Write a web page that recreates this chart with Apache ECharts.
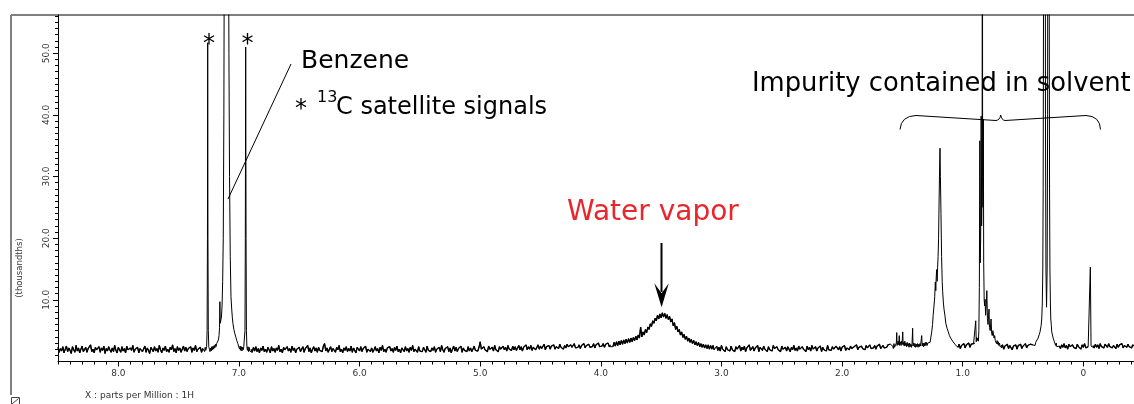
<!DOCTYPE html>
<html>
<head>
<meta charset="utf-8">
<script src="https://cdn.jsdelivr.net/npm/echarts@6/dist/echarts.min.js"></script>
<style>
html,body{margin:0;padding:0;background:#fff;}
#chart{width:1134px;height:404px;}
</style>
</head>
<body>
<div id="chart"></div>
<script>
// ---------- axis ticks ----------
const xMajorTicks = [8, 7, 6, 5, 4, 3, 2, 1, 0];
const yMajorTicks = [10, 20, 30, 40, 50];

// ---------- baseline noise segments (fixed ppm step) ----------
const noiseStep = 0.01;
const noiseAStart = 8.50, noiseAEnd = 7.30;
const noiseA = [2.3,1.5,2.1,1.7,2.4,1.4,2.0,2.5,1.6,2.2,
  1.8,1.3,2.4,1.9,1.5,2.6,1.7,2.2,1.4,2.0,
  2.5,1.6,1.9,2.3,1.5,2.1,1.8,2.7,1.6,2.0,
  1.4,2.3,1.9,1.6,2.4,1.5,2.2,1.8,2.5,1.3,
  2.1,1.7,2.4,1.9,1.5,2.2,1.6,2.6,1.8,1.4,
  2.3,2.0,1.5,2.4,1.7,2.1,1.4,2.5,1.9,1.6,
  2.2,1.8,2.6,1.5,2.0,1.7,2.3,1.4,2.1,2.4,
  1.6,1.9,2.5,1.5,2.2,1.8,1.3,2.3,2.0,1.6,
  2.4,1.7,2.1,1.5,2.6,1.9,1.4,2.2,1.8,2.5,
  1.6,2.0,1.5,2.3,1.9,2.7,1.6,2.1,1.4,2.4,
  1.8,2.2,1.5,2.0,2.5,1.7,2.3,1.6,2.1,1.9,
  2.4,1.5,2.2,1.8,2.6,1.6,2.0,1.7,2.3,1.5,
  2.1];
const noiseBStart = 6.90, noiseBEnd = 3.92;
const noiseB = [2.0,1.5,2.3,1.7,2.4,1.6,2.1,1.4,2.2,1.8,
  2.5,1.6,2.0,1.5,2.3,1.9,1.4,2.4,1.7,2.1,
  1.5,2.2,1.8,2.6,1.6,2.0,1.4,2.3,1.9,1.6,
  2.4,1.7,2.1,1.5,2.5,1.8,2.2,1.4,2.0,1.7,
  2.3,1.6,1.9,2.4,1.5,2.1,1.8,2.6,1.6,2.2,
  1.4,2.0,2.4,1.7,2.2,1.5,2.3,1.8,2.1,1.6,
  2.5,2.9,1.7,2.2,1.5,2.0,2.4,1.6,2.1,1.8,
  1.5,2.3,1.9,2.6,1.6,2.0,1.4,2.2,1.8,2.4,
  1.6,2.1,1.7,2.5,1.5,2.2,1.9,1.4,2.3,2.0,
  1.7,2.4,1.6,2.1,1.8,2.5,1.5,2.0,2.3,1.6,
  2.2,1.5,1.9,2.4,1.7,2.1,1.4,2.3,1.8,2.6,
  1.6,2.0,1.5,2.2,1.9,2.4,1.7,2.1,1.5,2.3,
  1.8,2.5,1.6,2.0,1.4,2.2,1.9,1.6,2.4,1.7,
  2.1,1.5,2.3,1.8,2.6,1.6,2.0,2.2,1.5,2.4,
  1.7,2.0,1.6,2.3,1.9,1.5,2.5,1.8,2.1,1.6,
  2.2,1.8,2.4,1.5,2.0,1.7,2.3,1.6,2.6,1.9,
  1.5,2.1,1.8,2.4,1.6,2.2,1.4,2.0,2.5,1.7,
  2.3,1.6,2.1,1.9,2.5,1.5,2.2,1.8,2.0,1.6,
  2.4,1.7,2.2,1.6,2.0,2.5,1.8,2.1,1.7,2.3,
  3.2,2.0,1.7,2.4,1.9,2.2,1.6,2.5,2.0,1.8,
  2.3,1.7,2.6,1.9,2.1,1.6,2.4,2.0,1.8,2.5,
  1.9,2.3,1.7,2.6,2.0,2.2,1.8,2.5,1.9,2.4,
  1.8,2.2,2.6,1.9,2.4,1.7,2.3,2.1,2.7,1.9,
  2.4,2.0,2.6,1.8,2.3,2.5,1.9,2.2,2.7,2.0,
  2.5,2.1,2.3,2.8,1.9,2.4,2.2,2.6,2.0,2.5,
  2.2,2.7,2.0,2.4,2.6,2.1,2.8,2.3,2.5,2.0,
  2.6,2.2,2.8,2.4,2.1,2.7,2.3,2.5,2.9,2.2,
  2.5,2.3,2.7,2.1,2.6,2.4,2.9,2.2,2.6,2.5,
  2.8,2.3,2.6,2.4,2.9,2.2,2.7,2.5,3.0,2.4,
  2.7,2.5,2.9,2.3,2.8,2.6,3.0,2.4,2.7];
// water vapor hump
const waterStart = 3.90, waterEnd = 3.06;
const waterVals = [2.4,3.1,2.5,3.2,2.6,3.3,2.7,3.4,2.8,3.5,
  2.9,3.6,3.0,3.7,3.1,3.8,3.2,3.9,3.4,4.1,
  3.5,4.3,3.8,5.6,4.0,4.8,4.3,5.2,4.7,5.6,
  5.2,6.1,5.7,6.6,6.2,7.0,6.6,7.5,6.9,7.7,
  7.1,7.9,7.2,7.8,7.0,7.6,6.8,7.3,6.4,6.9,
  5.8,6.3,5.2,5.7,4.8,5.2,4.3,4.8,3.9,4.4,
  3.6,4.1,3.3,3.8,3.1,3.6,2.9,3.4,2.7,3.2,
  2.6,3.1,2.4,2.9,2.3,2.8,2.2,2.7,2.1,2.7,
  2.0,2.6,2.0,2.6,1.9];
const noiseCStart = 3.04, noiseCEnd = 1.60;
const noiseC = [2.5,1.8,2.3,1.7,2.6,2.0,2.2,1.6,2.4,1.9,
  2.1,1.7,2.5,1.9,2.2,1.6,2.4,2.0,1.8,2.6,
  1.7,2.3,1.9,2.5,1.6,2.2,2.0,2.7,1.8,2.1,
  2.4,1.7,2.2,1.9,2.6,1.6,2.3,2.0,1.8,2.5,
  2.0,2.3,1.6,2.4,1.9,2.2,1.7,2.6,2.1,1.8,
  2.4,1.9,2.2,1.6,2.5,2.0,1.8,2.3,1.7,2.4,
  2.1,1.6,2.3,1.9,2.6,1.8,2.2,1.7,2.5,2.0,
  1.8,2.4,2.0,2.2,1.6,2.5,1.9,2.3,1.7,2.6,
  2.0,1.8,2.4,1.7,2.2,2.0,2.5,1.6,2.3,1.9,
  2.2,1.7,2.6,1.9,2.1,1.8,2.4,2.0,1.7,2.5,
  2.2,1.9,2.4,1.7,2.3,2.0,2.6,1.8,2.2,2.4,
  1.9,2.5,2.1,1.8,2.4,2.2,2.7,1.9,2.3,2.0,
  2.5,2.1,2.3,1.9,2.6,2.2,2.0,2.7,2.1,2.4,
  2.2,2.6,2.0,2.5,2.3,2.8,2.1,2.4,2.6,2.2,
  2.5,2.3,2.7,2.4,2.8];
const noiseDStart = 1.04, noiseDEnd = 0.90;
const noiseD = [2.3,2.8,2.1,2.6,2.4,2.9,2.2,2.7,2.5,3.0,2.3,2.8,2.5,2.9,3.0];
const noiseEStart = 0.68, noiseEEnd = 0.42;
const noiseE = [2.2,2.7,2.0,2.5,2.3,2.8,2.1,2.6,2.4,1.9,2.5,2.2,2.7,2.0,2.6,2.3,2.8,2.1,2.5,2.4,2.9,2.2,2.6,2.3,2.8,2.5,2.7];
const noiseFStart = 0.20, noiseFEnd = -0.04;
const noiseF = [2.5,2.1,2.7,2.3,2.9,2.2,2.6,2.0,2.8,2.4,2.2,2.7,2.3,2.6,2.1,2.8,2.4,2.5,2.0,2.7,2.3,2.9,2.2,2.5,2.4];
const noiseGStart = -0.08, noiseGEnd = -0.42;
const noiseG = [2.6,2.2,2.8,2.3,2.7,2.1,2.9,2.4,2.6,2.2,2.8,2.5,2.3,2.9,2.4,2.7,2.2,2.6,2.5,2.1,2.8,2.3,2.7,2.4,2.9,2.2,2.6,2.5,2.3,2.8,2.4,2.6,2.2,2.7,2.5];

// ---------- peaks: [ppm, intensity (thousandths)] ----------
const benzenePts = [[7.29,2.2],[7.285,1.6],[7.28,2.3],[7.275,1.8],[7.268,2.4],[7.264,5],[7.261,20],[7.259,51.7],[7.257,20],[7.254,5],
  [7.25,2.4],[7.245,2.0],[7.24,1.6],[7.235,2.2],[7.23,1.7],[7.225,2.4],[7.22,1.9],[7.215,2.5],[7.21,2.0],[7.205,2.6],
  [7.20,2.2],[7.195,2.8],[7.19,2.4],[7.185,2.9],[7.18,2.6],[7.175,3.2],[7.17,3.5],[7.165,4.2],[7.161,5.5],[7.158,9.7],
  [7.155,6.2],[7.15,6.5],[7.145,7.2],[7.14,9],[7.135,13],[7.13,20],[7.125,40],[7.12,80],[7.112,200],[7.104,500],
  [7.096,200],[7.088,80],[7.083,50],[7.078,30],[7.072,17],[7.066,10.5],[7.06,8.5],[7.055,7.2],[7.05,6.2],[7.042,5.2],
  [7.035,4.6],[7.025,3.9],[7.018,3.4],[7.009,2.9],[7.0,2.6],[6.995,2.0],[6.99,2.5],[6.985,1.8],[6.98,2.4],[6.975,1.7],
  [6.97,2.3],[6.965,1.9],[6.96,2.4],[6.955,2.6],[6.95,5],[6.947,20],[6.944,51],[6.941,20],[6.938,5],[6.934,2.4],
  [6.93,1.8],[6.925,2.4],[6.92,1.6],[6.915,2.3],[6.91,1.7]];
const impurityPts = [[1.58,2.5],[1.575,2.1],[1.57,2.9],[1.565,2.3],[1.56,2.6],[1.555,2.2],[1.55,3.0],[1.547,4.7],[1.544,2.6],
  [1.54,2.9],[1.535,3.3],[1.53,2.7],[1.526,4.2],[1.522,2.6],[1.518,3.2],[1.51,2.6],[1.506,3.3],[1.503,2.8],[1.497,4.8],
  [1.494,2.7],[1.49,3.1],[1.485,2.5],[1.48,3.3],[1.475,2.6],[1.47,3.0],[1.465,2.4],[1.46,3.1],[1.455,2.5],[1.45,2.9],
  [1.445,2.3],[1.44,3.0],[1.435,2.4],[1.43,2.8],[1.425,2.3],[1.42,2.9],[1.415,5.4],[1.412,2.5],[1.405,3.0],[1.40,2.4],
  [1.395,2.9],[1.39,2.3],[1.385,2.8],[1.38,2.4],[1.375,2.9],[1.37,2.3],[1.365,2.8],[1.36,2.4],[1.355,2.9],[1.35,2.5],
  [1.345,2.8],[1.34,4.2],[1.336,2.5],[1.33,3.0],[1.325,2.4],[1.32,3.0],[1.315,2.5],[1.31,3.1],[1.305,2.6],[1.30,3.1],
  [1.295,2.6],[1.29,3.0],[1.285,2.7],[1.28,3.2],[1.275,2.8],[1.27,3.1],[1.265,3.8],[1.257,4.8],[1.25,6.0],
  [1.245,7.5],[1.238,9.0],[1.232,10.5],[1.227,12.9],[1.223,11.5],[1.22,13.5],[1.216,14.9],[1.212,13],[1.208,15.3],
  [1.204,17],[1.20,20],[1.195,27],[1.19,33],[1.188,34.6],[1.185,30],[1.18,24],[1.175,17],[1.17,13],[1.166,11.3],
  [1.16,9.5],[1.155,8.5],[1.147,7.4],[1.14,6.2],[1.135,6.0],[1.13,5.4],[1.125,5.6],[1.119,4.8],[1.115,4.9],[1.11,4.2],
  [1.105,4.3],[1.10,3.8],[1.095,4.0],[1.091,3.5],[1.085,3.7],[1.08,3.2],[1.075,3.5],[1.07,2.9],[1.065,3.2],[1.06,2.7]];
const clusterPts = [[0.895,3.0],[0.892,6.6],[0.888,3.2],[0.884,3.9],[0.88,3.4],[0.875,3.8],[0.87,3.3],[0.866,5],[0.862,12],[0.858,35.8],
  [0.855,16],[0.851,20],[0.847,39.8],[0.843,22],[0.839,30],[0.837,120],[0.835,30],[0.832,25],[0.829,39.3],[0.826,16],
  [0.822,10],[0.818,9],[0.815,10.1],[0.81,7.5],[0.805,9],[0.80,11.5],[0.795,7],[0.79,6],[0.786,7.5],[0.782,8.5],
  [0.778,5.5],[0.772,5],[0.765,6.9],[0.76,4.6],[0.755,4.2],[0.75,5],[0.746,4.8],[0.74,3.8],[0.735,4.2],[0.73,3.4],
  [0.725,3.7],[0.72,2.9],[0.715,3.4],[0.71,2.8],[0.705,3.2],[0.70,2.6],[0.695,3.0],[0.69,2.4]];
const doubletPts = [[0.40,2.6],[0.395,3.1],[0.39,2.8],[0.385,3.4],[0.38,3.2],[0.375,3.8],[0.37,3.7],[0.365,4.4],[0.359,4.8],[0.35,5.8],[0.345,6.9],[0.34,9.5],[0.336,15],
  [0.333,28],[0.33,60],[0.326,150],[0.322,300],[0.318,150],[0.314,40],[0.31,15],[0.305,8.8],[0.30,15],[0.296,40],
  [0.293,150],[0.29,300],[0.287,150],[0.283,60],[0.28,28],[0.277,15],[0.273,9.5],[0.27,6.9],[0.265,5.8],[0.262,4.8],
  [0.256,4.6],[0.25,3.8],[0.245,3.7],[0.24,3.2],[0.235,3.3],[0.23,2.6],[0.225,3.0],[0.22,2.4]];
const tmsPts = [[-0.052,2.4],[-0.058,15.3],[-0.064,2.5]];

// ---------- build the spectrum table ----------
function seg(start, end, step, vals) {
  const out = [];
  for (let i = 0; i < vals.length; i++) {
    const p = +(start - i * step).toFixed(4);
    if (p < end - 1e-9) break;
    out.push([p, vals[i]]);
  }
  return out;
}
const noiseSegs = [
  seg(noiseAStart, noiseAEnd, noiseStep, noiseA),
  seg(noiseBStart, noiseBEnd, noiseStep, noiseB),
  seg(waterStart, waterEnd, noiseStep, waterVals),
  seg(noiseCStart, noiseCEnd, noiseStep, noiseC),
  seg(noiseDStart, noiseDEnd, noiseStep, noiseD),
  seg(noiseEStart, noiseEEnd, noiseStep, noiseE),
  seg(noiseFStart, noiseFEnd, noiseStep, noiseF),
  seg(noiseGStart, noiseGEnd, noiseStep, noiseG)
];
const spectrum = [].concat(
  ...noiseSegs, benzenePts, impurityPts, clusterPts, doubletPts, tmsPts
).sort((a, b) => b[0] - a[0]);
// the same noisy baseline stretches, drawn again a little heavier (the band look of the original)
const noiseBand = [];
noiseSegs.forEach(s => { s.forEach(p => noiseBand.push(p)); noiseBand.push([s[s.length - 1][0] - 0.001, null]); });

const xMinorTicks = [];
for (let k = -4; k <= 85; k++) xMinorTicks.push(+(k / 10).toFixed(1));
const yMinorTicks = [];
for (let k = 1; k <= 56; k++) yMinorTicks.push(k);

const FONT = 'DejaVu Sans';
const chart = echarts.init(document.getElementById('chart'), null, {renderer: 'canvas'});

function qcurve(x1, y1, cx, cy, x2, y2) {
  return {type: 'bezierCurve', silent: true, shape: {x1: x1, y1: y1, cpx1: cx, cpy1: cy, x2: x2, y2: y2},
    style: {fill: 'none', stroke: '#000', lineWidth: 1}};
}
function seg2(x1, y1, x2, y2, w, c) {
  return {type: 'line', silent: true, shape: {x1: x1, y1: y1, x2: x2, y2: y2}, style: {stroke: c || '#000', lineWidth: w || 1}};
}
function txt(x, y, text, size, color, align, rot) {
  const o = {type: 'text', silent: true, x: x, y: y,
    style: {text: text, font: size + 'px ' + FONT, fill: color || '#000', align: align || 'left', verticalAlign: 'middle'}};
  if (rot) o.rotation = rot;
  return o;
}

chart.setOption({
  animation: false,
  backgroundColor: '#ffffff',
  grid: {left: 58, right: 0, top: 15, bottom: 42.5, containLabel: false},
  xAxis: [{
    type: 'value', min: -0.42, max: 8.5, inverse: true, position: 'bottom',
    axisLine: {show: true, onZero: false, lineStyle: {color: '#000', width: 1}},
    axisTick: {show: true, length: 5, customValues: xMajorTicks, lineStyle: {color: '#000', width: 1}},
    axisLabel: {show: true, customValues: xMajorTicks, margin: 8, fontSize: 9, fontFamily: FONT, color: '#333',
      formatter: v => (v === 0 ? '0' : Number(v).toFixed(1))},
    splitLine: {show: false}
  }, {
    type: 'value', min: -0.42, max: 8.5, inverse: true, position: 'bottom', offset: 0,
    axisLine: {show: false, onZero: false},
    axisTick: {show: true, length: 3, customValues: xMinorTicks, lineStyle: {color: '#000', width: 1}},
    axisLabel: {show: false},
    splitLine: {show: false}
  }],
  yAxis: [{
    type: 'value', min: 0, max: 56.2, position: 'left',
    axisLine: {show: true, onZero: false, lineStyle: {color: '#000', width: 1}},
    axisTick: {show: true, length: 5, customValues: yMajorTicks, lineStyle: {color: '#000', width: 1}},
    axisLabel: {show: true, customValues: yMajorTicks, rotate: 90, margin: 7, fontSize: 9, fontFamily: FONT, color: '#333',
      formatter: v => Number(v).toFixed(1)},
    splitLine: {show: false}
  }, {
    type: 'value', min: 0, max: 56.2, position: 'left', offset: 0,
    axisLine: {show: false, onZero: false},
    axisTick: {show: true, length: 3, customValues: yMinorTicks, lineStyle: {color: '#000', width: 1}},
    axisLabel: {show: false},
    splitLine: {show: false}
  }],
  series: [{
    type: 'line', xAxisIndex: 0, yAxisIndex: 0, data: spectrum, showSymbol: false, symbol: 'none',
    clip: true, lineStyle: {color: '#000', width: 1}, emphasis: {disabled: true}, silent: true
  }, {
    type: 'line', xAxisIndex: 0, yAxisIndex: 0, data: noiseBand, showSymbol: false, symbol: 'none', connectNulls: false,
    clip: true, lineStyle: {color: '#000', width: 1.3}, emphasis: {disabled: true}, silent: true
  }],
  graphic: [
    seg2(11, 15, 1134, 15, 2, '#808080'),
    seg2(11, 15, 11, 395, 2, '#808080'),
    {type: 'rect', silent: true, shape: {x: 11.5, y: 397.5, width: 8, height: 8}, style: {fill: 'none', stroke: '#444', lineWidth: 1}},
    seg2(12, 404, 18.5, 398.5, 1, '#444'),
    // Benzene pointer
    seg2(291, 64, 228, 199, 1),
    // water arrow
    seg2(661.5, 243, 661.5, 292, 2),
    {type: 'polygon', silent: true, shape: {points: [[654.3, 283.3], [661.6, 307.3], [668.8, 283.3], [661.6, 293.3]]}, style: {fill: '#000'}},
    // brace
    qcurve(900, 129.5, 901, 116, 916, 115.5),
    seg2(916, 115.5, 996, 120.5, 1),
    qcurve(996, 120.5, 1000, 120, 1000.7, 115),
    qcurve(1000.7, 115, 1001.5, 120, 1005, 120.5),
    seg2(1005, 120.5, 1086, 115.5, 1),
    qcurve(1086, 115.5, 1100, 116, 1100.5, 129.5),
    // texts
    txt(209, 45, '*', 24, '#000', 'center'),
    txt(247.5, 45, '*', 24, '#000', 'center'),
    txt(301, 61, 'Benzene', 25),
    txt(301, 110, '*', 24, '#000', 'center'),
    txt(317, 98, '13', 16),
    txt(336, 108, 'C satellite signals', 24),
    txt(567, 213, 'Water vapor', 28, '#e8262b'),
    txt(752, 84, 'Impurity contained in solvent', 25.8),
    txt(20, 268, '(thousandths)', 8.5, '#333', 'center', Math.PI / 2),
    txt(85, 396, 'X : parts per Million : 1H', 9, '#333')
  ]
});
</script>
</body>
</html>
